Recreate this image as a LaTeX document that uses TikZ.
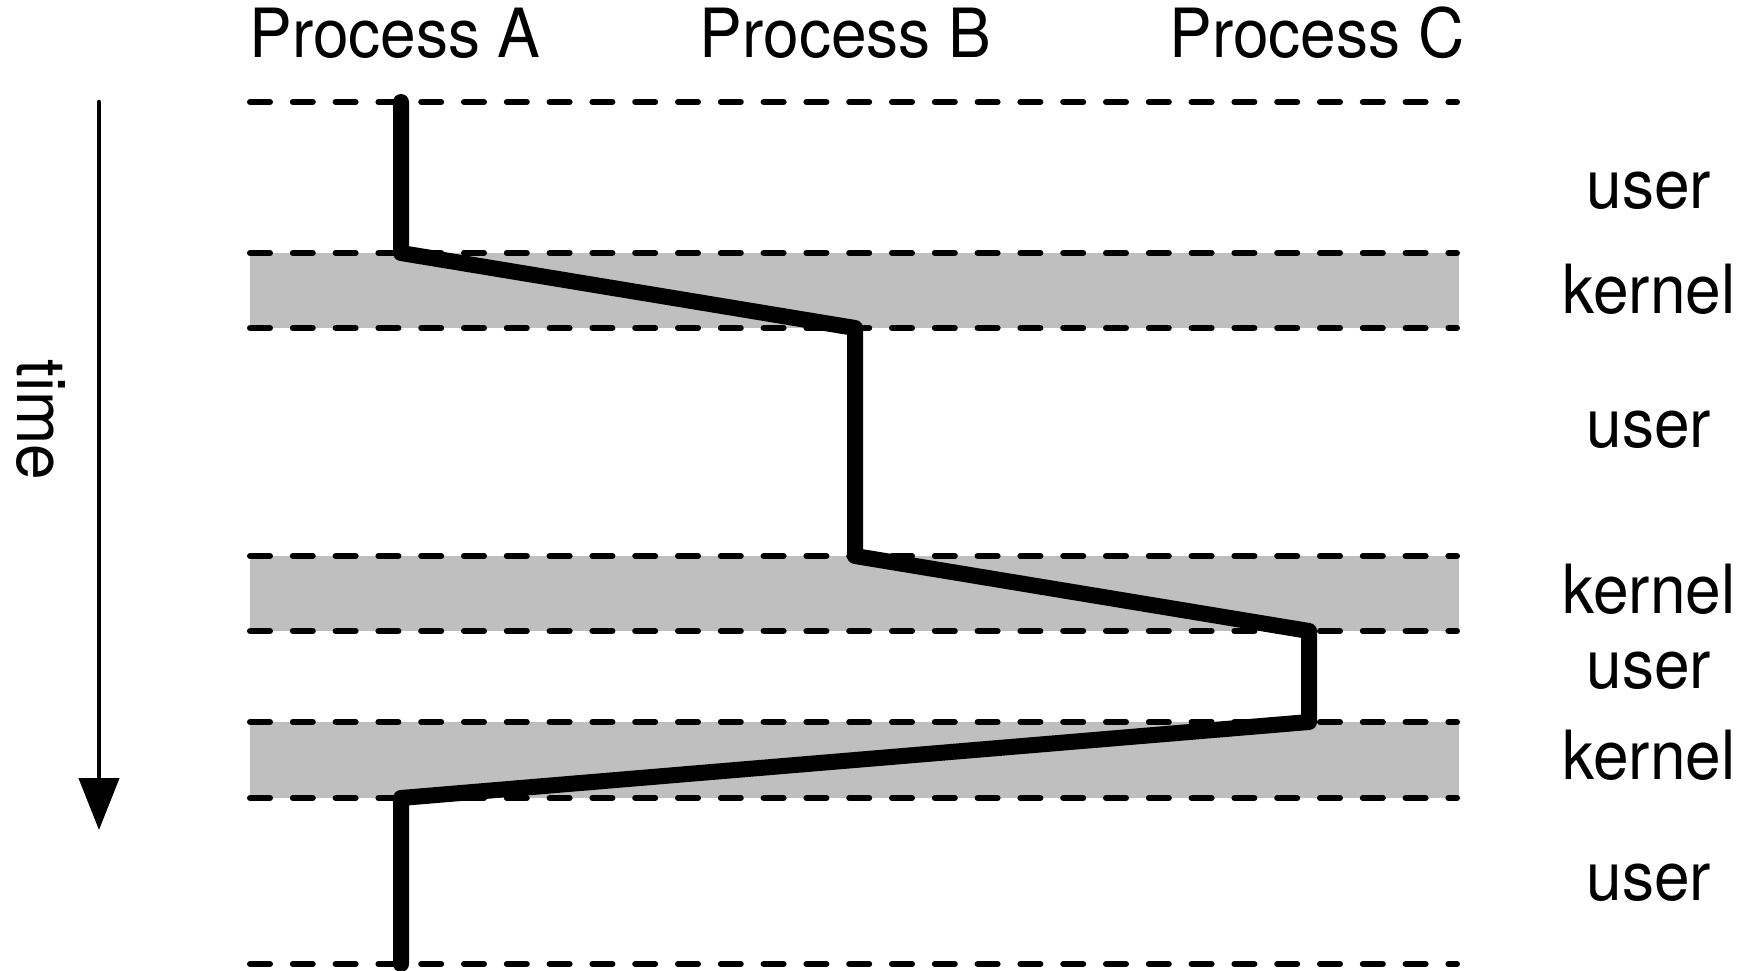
\documentclass[tikz,border=0pt]{standalone}
\usepackage{fontspec}
\setmainfont{TeX Gyre Heros}
\usetikzlibrary{arrows.meta}
\definecolor{kernelgray}{RGB}{191,191,191}
\newcommand{\tallText}[1]{\scalebox{1}[1.06]{#1}}
\tikzset{
  boundary/.style={line width=6pt, dash pattern=on 20pt off 22.8pt, line cap=round},
  band/.style={fill=kernelgray},
  exec/.style={line width=16pt, line cap=round, line join=round},
  lbl/.style={inner sep=0pt, anchor=base, font=\fontsize{64}{76}\selectfont},
  timeaxis/.style={line width=4.5pt, line cap=round, -{Triangle[length=52pt,width=40pt]}},
}
\begin{document}
\begin{tikzpicture}[x=1pt,y=-1pt]
\useasboundingbox (0,0) rectangle (1749,971);

% kernel-mode bands
\foreach \t/\b in {253/328, 556/631, 722/798}
  \fill[band] (250,\t) rectangle (1459,\b);

% user/kernel boundaries
\foreach \y in {102,253,328,556,631,722,798,964}
  \draw[boundary] (250,\y) -- (1457,\y);

% column headers
\node[lbl] (procA) at (395,58)    {\tallText{Process A}};
\node[lbl] (procB) at (845.5,58)  {\tallText{Process B}};
\node[lbl] (procC) at (1317,58)   {\tallText{Process C}};

% mode labels
\node[lbl] (u1) at (1649,208) {\tallText{user}};
\node[lbl] (k1) at (1649,313) {\tallText{kernel}};
\node[lbl] (u2) at (1649,447) {\tallText{user}};
\node[lbl] (k2) at (1649,613) {\tallText{kernel}};
\node[lbl] (u3) at (1649,688) {\tallText{user}};
\node[lbl] (k3) at (1649,779) {\tallText{kernel}};
\node[lbl] (u4) at (1649,900) {\tallText{user}};

% time axis
\coordinate (t0) at (99,102);
\coordinate (t1) at (99,830);
\draw[timeaxis] (t0) -- (t1);
\node[lbl, rotate=-90] (timelbl) at (17,420) {\tallText{time}};

% execution path through the processes
\coordinate (a0) at (401,102);
\coordinate (a1) at (401,253);
\coordinate (b0) at (855,328);
\coordinate (b1) at (855,556);
\coordinate (c0) at (1309,631);
\coordinate (c1) at (1309,722);
\coordinate (a2) at (401,798);
\coordinate (a3) at (401,964);
\draw[exec] (a0) -- (a1) -- (b0) -- (b1) -- (c0) -- (c1) -- (a2) -- (a3);
\end{tikzpicture}
\end{document}
